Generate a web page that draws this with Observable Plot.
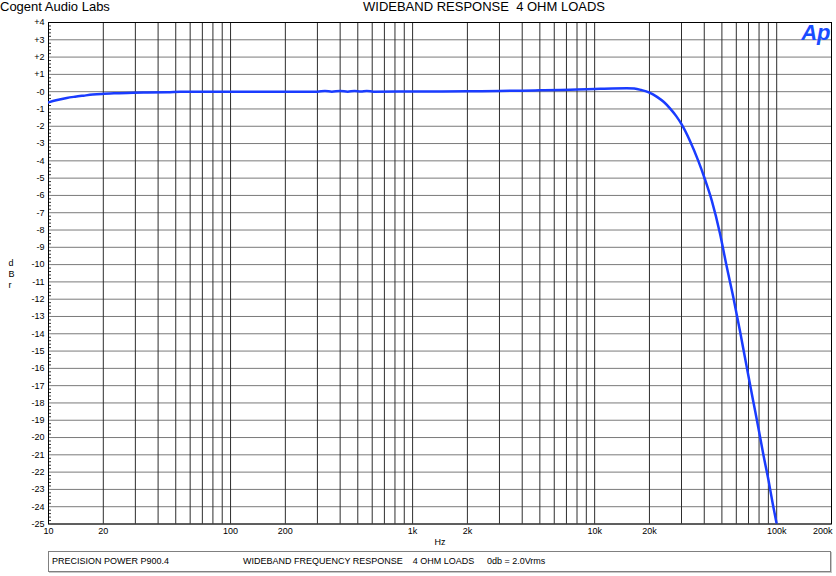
<!DOCTYPE html>
<html><head><meta charset="utf-8">
<script src="https://cdn.jsdelivr.net/npm/d3@7"></script>
<script src="https://cdn.jsdelivr.net/npm/@observablehq/plot@0.6"></script>
<style>
body{margin:0;background:#fff;font-family:"Liberation Sans",Arial,sans-serif;color:#000;}
#wrap{position:relative;width:836px;height:576px;overflow:hidden;}
#hdr{position:relative;height:14px;font-size:13px;line-height:13px;}
#hdr span{position:absolute;top:0;white-space:pre;}
#chart svg{display:block;}
#foot{position:absolute;left:48px;top:551px;width:781px;height:19px;border:1px solid #808080;box-shadow:1px 1px 0 #c8c8c8;font-size:9px;line-height:19px;}
#foot span{position:absolute;top:0;white-space:pre;}
</style></head>
<body><div id="wrap">
<div id="hdr"><span id="t1" style="left:0">Cogent Audio Labs</span><span id="t2" style="left:363px">WIDEBAND RESPONSE  4 OHM LOADS</span></div>
<div id="chart"></div>
<div id="foot"><span id="f1" style="left:3px">PRECISION POWER P900.4</span><span id="f2" style="left:194px">WIDEBAND FREQUENCY RESPONSE    4 OHM LOADS     0db = 2.0Vrms</span></div>
</div>
<script>
// ---- data ----
const freqHz = [10, 11, 12.6, 14, 15.6, 17.5, 19.6, 24, 29.2, 35, 45, 53, 80, 150, 300, 330, 360, 400, 440, 480, 520, 560, 610, 1000, 2000, 3000, 4000, 5000, 6500, 8000, 10000, 12500, 15000, 16500, 18000, 20000, 22000, 24000, 26000, 28000, 30000, 33400, 37100, 40300, 44000, 48800, 53100, 57800, 63000, 68400, 74000, 79200, 84500, 89900, 95000, 100000];
const levelDb = [-0.62, -0.5, -0.36, -0.29, -0.23, -0.17, -0.13, -0.09, -0.06, -0.05, -0.04, -0.01, 0, 0, 0, 0.04, 0.0, 0.04, 0.0, 0.04, 0.01, 0.04, 0.0, 0.01, 0.02, 0.04, 0.06, 0.08, 0.1, 0.13, 0.16, 0.19, 0.2, 0.18, 0.1, -0.05, -0.3, -0.6, -0.98, -1.4, -1.88, -2.85, -4.0, -5.05, -6.3, -8.2, -10.1, -11.9, -13.9, -15.9, -17.8, -19.4, -21.0, -22.4, -23.8, -25];

const xTickValues = [10, 20, 50, 100, 200, 500, 1000, 2000, 5000, 10000, 20000, 50000, 100000, 200000];
const xTickLabels = ["10", "20", "50", "100", "200", "500", "1k", "2k", "5k", "10k", "20k", "50k", "100k", "200k"];
const decades = [10, 100, 1000, 10000, 100000];
const multipliers = [1, 2, 3, 4, 5, 6, 7, 8, 9];
const yTickValues = d3.range(-25, 5);
const yMinorTicks = d3.range(-25, 4.0001, 0.2).filter(v => Math.abs(v - Math.round(v)) > 0.01);

const xGrid = decades.flatMap(d => multipliers.map(m => d * m)).filter(v => v <= 200000).concat([200000]);
const data = freqHz.map((f, i) => ({f, db: levelDb[i]}));
const labelOf = new Map(xTickValues.map((v, i) => [v, xTickLabels[i]]));
const lastTick = xTickValues[xTickValues.length - 1];
const axisTicks = xTickValues.slice(0, -1);
const yFmt = d => d > 0 ? "+" + d : d === 0 ? "-0" : "-" + Math.abs(d);

const W = 836, H = 534, ML = 48, MR = 5, MT = 8, MB = 24.5;
const plotW = W - ML - MR;

const chart = Plot.plot({
  width: W, height: H,
  marginLeft: ML, marginRight: MR, marginTop: MT, marginBottom: MB,
  style: {fontFamily: "'Liberation Sans', Arial, sans-serif", fontSize: "9px", background: "#fff", color: "#000"},
  x: {type: "log", domain: [10, 200000]},
  y: {domain: [-25, 4]},
  marks: [
    Plot.ruleY(yTickValues, {stroke: "#7a7a7a", strokeWidth: 1}),
    Plot.ruleX(xGrid, {stroke: "#2e2e2e", strokeWidth: 1}),
    Plot.tickY(yMinorTicks, {stroke: "#333", strokeWidth: 1, insetRight: plotW - 3}),
    Plot.frame({stroke: "#000", strokeWidth: 1}),
    Plot.axisY({ticks: yTickValues, tickSize: 0, tickPadding: 4, tickFormat: yFmt, label: null}),
    Plot.axisX({ticks: axisTicks, tickSize: 0, tickPadding: 4, tickFormat: d => labelOf.get(d), label: null}),
    Plot.text([lastTick], {x: d => d, frameAnchor: "bottom", text: d => labelOf.get(d), textAnchor: "end", lineAnchor: "top", dy: 4, dx: 1, fontSize: 9}),
    Plot.text(["Hz"], {frameAnchor: "bottom", dy: 21, fontSize: 9}),
    Plot.text(["d\nB\nr"], {frameAnchor: "left", dx: -40, fontSize: 9, lineHeight: 1.25}),
    Plot.text(["Ap"], {frameAnchor: "top-right", dx: -1, dy: 2, fontSize: 22, fontWeight: "bold", fontStyle: "italic", fill: "#1a4cff", fontFamily: "'Liberation Sans', Arial, sans-serif"}),
    Plot.line(data, {x: "f", y: "db", stroke: "#1a3cff", strokeWidth: 2.5, curve: "monotone-x", clip: true})
  ]
});
document.getElementById("chart").appendChild(chart);
</script>
</body></html>
